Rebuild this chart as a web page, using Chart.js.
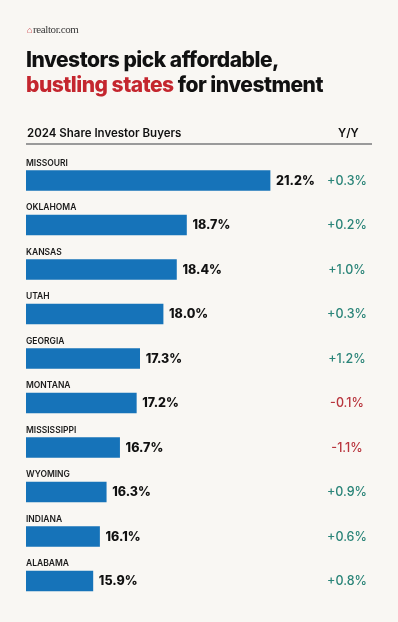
<!DOCTYPE html>
<html>
<head>
<meta charset="utf-8">
<script src="https://cdn.jsdelivr.net/npm/chart.js@4.4.0/dist/chart.umd.min.js"></script>
<style>
  html, body { margin:0; padding:0; background:#f9f7f3; }
  body { width:398px; height:622px; position:relative; overflow:hidden; font-family:Inter, "Open Sans", sans-serif; }
  #wrap { position:absolute; left:0; top:0; width:398px; height:622px; }
  .logo { position:absolute; left:27px; top:23px; font-family:"Liberation Serif", serif; font-size:11px; color:#3a3a3a; letter-spacing:-0.4px; }
  .logo span.h { color:#c4262e; font-size:9px; margin-right:1px; }
  .title { position:absolute; left:26px; top:47px; font-size:21px; font-weight:800; color:#111; line-height:25px; letter-spacing:-0.5px; }
  .title .red { color:#c4262e; }
  .sub { position:absolute; left:27px; top:126px; font-size:11.5px; font-weight:600; color:#111; }
  .yy { position:absolute; left:338px; top:126px; font-size:11.5px; font-weight:600; color:#111; }
  .rule { position:absolute; left:26px; top:143px; width:346px; height:2px; background:#9a9a9a; }
</style>
</head>
<body>
<div id="wrap"><canvas id="c" width="398" height="622"></canvas></div>
<div class="logo"><span class="h">&#x2302;</span>realtor.com</div>
<div class="title">Investors pick affordable,<br><span class="red">bustling states</span> for investment</div>
<div class="sub">2024 Share Investor Buyers</div>
<div class="yy">Y/Y</div>
<div class="rule"></div>
<script>
const states = ["MISSOURI","OKLAHOMA","KANSAS","UTAH","GEORGIA","MONTANA","MISSISSIPPI","WYOMING","INDIANA","ALABAMA"];
const shares = [21.2, 18.7, 18.4, 18.0, 17.3, 17.2, 16.7, 16.3, 16.1, 15.9];
const yoy = [0.3, 0.2, 1.0, 0.3, 1.2, -0.1, -1.1, 0.9, 0.6, 0.8];

const labelPlugin = {
  id: 'labels',
  afterDatasetsDraw(chart) {
    const ctx = chart.ctx;
    const meta = chart.getDatasetMeta(0);
    const xs = chart.scales.x;
    ctx.save();
    meta.data.forEach((bar, i) => {
      const y = bar.y;
      ctx.textBaseline = 'middle';
      ctx.textAlign = 'left';
      ctx.fillStyle = '#1a1a1a';
      ctx.font = '600 8.5px Inter, sans-serif';
      ctx.fillText(states[i], xs.left, y - 17.5);
      ctx.font = '800 12.5px Inter, sans-serif';
      ctx.fillStyle = '#111';
      ctx.fillText(shares[i].toFixed(1) + '%', bar.x + 6, y + 0.5);
      ctx.textAlign = 'center';
      ctx.font = '500 12.5px Inter, sans-serif';
      const v = yoy[i];
      ctx.fillStyle = v < 0 ? '#b8343c' : '#2a8478';
      ctx.fillText((v < 0 ? '-' : '+') + Math.abs(v).toFixed(1) + '%', 347, y + 0.5);
    });
    ctx.restore();
  }
};

new Chart(document.getElementById('c'), {
  type: 'bar',
  data: {
    labels: states,
    datasets: [{
      data: shares,
      backgroundColor: '#1673b9',
      borderWidth: 0,
      barThickness: 20,
      categoryPercentage: 1,
      barPercentage: 1
    }]
  },
  options: {
    indexAxis: 'y',
    responsive: false,
    animation: false,
    layout: { padding: { left: 26, right: 31, top: 158.25, bottom: 18.75 } },
    plugins: { legend: { display: false }, tooltip: { enabled: false } },
    scales: {
      x: { display: false, min: 13.9, max: 24.1 },
      y: { display: false }
    }
  },
  plugins: [labelPlugin]
});
</script>
</body>
</html>
